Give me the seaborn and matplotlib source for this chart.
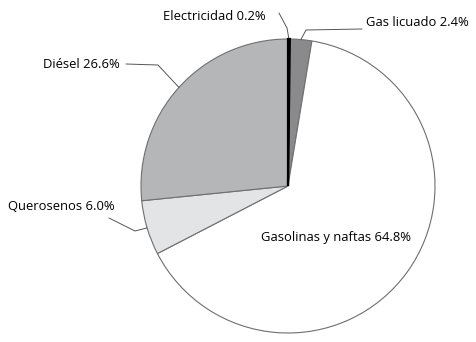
import numpy as np
import matplotlib
matplotlib.use("Agg")
import matplotlib.pyplot as plt
import seaborn as sns

sns.set_style("white")
plt.rcParams['font.family'] = ['Open Sans', 'DejaVu Sans']
plt.rcParams['text.color'] = 'black'

# data
labels = ["Electricidad", "Gas licuado", "Gasolinas y naftas", "Querosenos", "Diésel"]
shares = [0.2, 2.4, 64.8, 6.0, 26.6]
colors = ["#000000", "#8a8a8c", "#ffffff", "#e3e4e5", "#b5b6b8"]

fig = plt.figure(figsize=(4.77, 3.42), dpi=100)
W, H = 477, 342
cx, cy, r = 288, 186, 147
ax = fig.add_axes([(cx - r) / W, (H - cy - r) / H, 2 * r / W, 2 * r / H])

wedges, _ = ax.pie(shares, colors=colors, startangle=90, counterclock=False, radius=1,
                   wedgeprops=dict(edgecolor="#6f6f6f", linewidth=0.8))
# thin black slice drawn a bit heavier so it shows like the original
wedges[0].set_edgecolor("#000000")
wedges[0].set_linewidth(1.6)
wedges[0].set_zorder(3)
ax.set_xlim(-1, 1)
ax.set_ylim(-1, 1)
ax.axis("off")

fs = 9.4
lc = "#555555"


def mid_point(w, rad=1.0):
    a = np.deg2rad((w.theta1 + w.theta2) / 2)
    return rad * np.cos(a), rad * np.sin(a)


def px(x, y):
    return (x - cx) / r, (cy - y) / r


# Electricidad
x0, y0 = mid_point(wedges[0])
e1 = px(287, 28)
e2 = px(279, 13)
ax.plot([x0, e1[0], e2[0]], [y0, e1[1], e2[1]], color=lc, lw=0.7, clip_on=False)
t = px(266, 17)
ax.text(t[0], t[1], f"{labels[0]} {shares[0]:.1f}%", ha="right", va="center", fontsize=fs)

# Gas licuado
x0, y0 = mid_point(wedges[1])
e1 = px(306, 30)
e2 = px(362, 29)
ax.plot([x0, e1[0], e2[0]], [y0, e1[1], e2[1]], color=lc, lw=0.7, clip_on=False)
t = px(366, 23)
ax.text(t[0], t[1], f"{labels[1]} {shares[1]:.1f}%", ha="left", va="center", fontsize=fs)

# Gasolinas
t = px(336, 237)
ax.text(t[0], t[1], f"{labels[2]} {shares[2]:.1f}%", ha="center", va="center", fontsize=fs)

# Querosenos
x0, y0 = mid_point(wedges[3])
e1 = px(135, 231)
e2 = px(109, 218)
ax.plot([x0, e1[0], e2[0]], [y0, e1[1], e2[1]], color=lc, lw=0.7, clip_on=False)
t = px(115, 207)
ax.text(t[0], t[1], f"{labels[3]} {shares[3]:.1f}%", ha="right", va="center", fontsize=fs)

# Diésel
x0, y0 = mid_point(wedges[4])
e1 = px(158, 65)
e2 = px(126, 64)
ax.plot([x0, e1[0], e2[0]], [y0, e1[1], e2[1]], color=lc, lw=0.7, clip_on=False)
t = px(120, 64)
ax.text(t[0], t[1], f"{labels[4]} {shares[4]:.1f}%", ha="right", va="center", fontsize=fs)

fig.savefig("out.png", dpi=100)
